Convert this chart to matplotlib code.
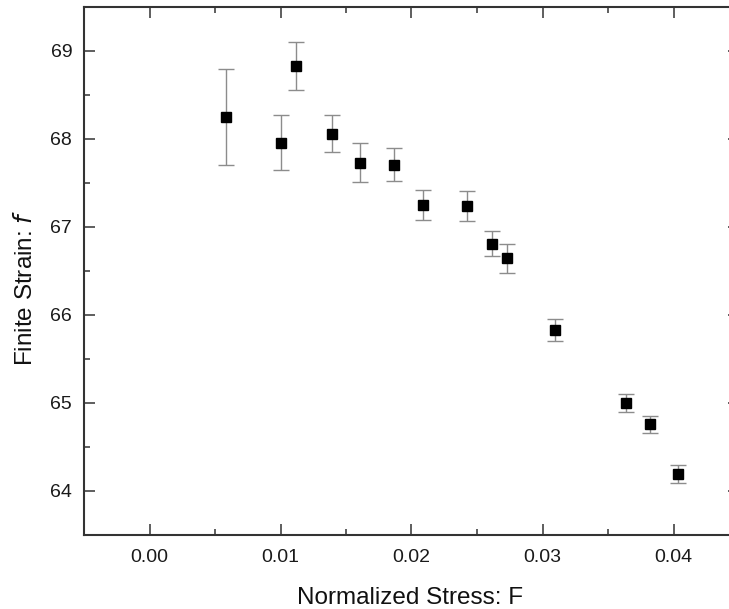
import matplotlib.pyplot as plt
from matplotlib.ticker import MultipleLocator

plt.rcParams['font.family'] = ['Liberation Sans', 'DejaVu Sans']

# normalized stress F, finite strain f and its error
stress = [0.00585, 0.0100, 0.0112, 0.01395, 0.0161, 0.01863, 0.0209,
          0.0242, 0.02613, 0.02727, 0.03094, 0.03636, 0.03817, 0.04033]
strain = [68.25, 67.96, 68.83, 68.06, 67.73, 67.71, 67.25,
          67.24, 66.81, 66.645, 65.83, 65.0, 64.757, 64.19]
strain_err = [0.54, 0.31, 0.275, 0.21, 0.22, 0.19, 0.17,
              0.17, 0.14, 0.165, 0.125, 0.106, 0.10, 0.10]

fig = plt.figure(figsize=(7.29, 6.09), dpi=100)
ax = fig.add_axes([84 / 729, 1 - 535 / 609, 655 / 729, 528 / 609])

ax.errorbar(stress, strain, yerr=strain_err, fmt='s', color='black',
            markersize=7.5, ecolor='#8c8c8c', elinewidth=1.0,
            capsize=5.5, capthick=1.0)

ax.set_xlim(-0.005, 0.045)
ax.set_ylim(63.5, 69.5)
ax.xaxis.set_major_locator(MultipleLocator(0.01))
ax.xaxis.set_minor_locator(MultipleLocator(0.005))
ax.yaxis.set_major_locator(MultipleLocator(1))
ax.yaxis.set_minor_locator(MultipleLocator(0.5))
ax.xaxis.set_major_formatter(lambda v, p: f'{v:.2f}')

ax.tick_params(which='both', direction='in', top=True, right=True,
               color='#333333', width=1.1, labelsize=14, labelcolor='#1a1a1a')
ax.tick_params(which='major', length=8)
ax.tick_params(which='minor', length=4)
ax.tick_params(axis='y', pad=8.5)
ax.tick_params(axis='x', pad=10)
for s in ax.spines.values():
    s.set_linewidth(1.5)
    s.set_color('#333333')

ax.set_xlabel('Normalized Stress: F', fontsize=17.5, color='#111111')
ax.set_ylabel('Finite Strain: $\\mathit{f}$', fontsize=17.5, color='#111111')
ax.xaxis.set_label_coords(326 / 655, -52 / 528)
ax.yaxis.set_label_coords(-47 / 655, 247 / 528)

fig.savefig('out.png', dpi=100)
